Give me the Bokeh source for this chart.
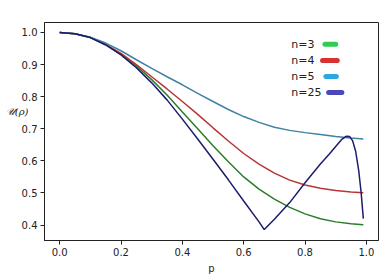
from bokeh.plotting import figure
from bokeh.models import Range1d, Label, FixedTicker, NumeralTickFormatter, LinearAxis
from bokeh.embed import file_html
from bokeh.resources import INLINE

# ---- data ----
p_vals = [0.0, 0.05, 0.1, 0.15, 0.2, 0.25, 0.3, 0.35, 0.4, 0.45, 0.5,
          0.55, 0.6, 0.65, 0.7, 0.75, 0.8, 0.85, 0.9, 0.95, 0.99]
u_n3 = [1.0, 0.996, 0.984, 0.962, 0.932, 0.895, 0.853, 0.805, 0.752, 0.70, 0.647,
        0.597, 0.550, 0.512, 0.481, 0.455, 0.435, 0.420, 0.410, 0.404, 0.401]
u_n4 = [1.0, 0.996, 0.984, 0.963, 0.935, 0.900, 0.862, 0.824, 0.785, 0.745, 0.703,
        0.662, 0.623, 0.590, 0.562, 0.540, 0.525, 0.515, 0.508, 0.503, 0.501]
u_n5 = [1.0, 0.996, 0.985, 0.967, 0.943, 0.915, 0.888, 0.862, 0.837, 0.810, 0.785,
        0.760, 0.738, 0.720, 0.705, 0.695, 0.688, 0.682, 0.676, 0.671, 0.668]
p_n25 = [0.0, 0.05, 0.1, 0.15, 0.2, 0.25, 0.3, 0.35, 0.4, 0.45, 0.5, 0.55, 0.6,
         0.65, 0.667, 0.7, 0.75, 0.8, 0.85, 0.88, 0.9, 0.92, 0.935, 0.945, 0.955,
         0.965, 0.975, 0.983, 0.99]
u_n25 = [1.0, 0.996, 0.984, 0.961, 0.930, 0.890, 0.843, 0.790, 0.730, 0.668, 0.605,
         0.541, 0.475, 0.410, 0.386, 0.418, 0.470, 0.532, 0.590, 0.622, 0.645, 0.667,
         0.677, 0.676, 0.663, 0.630, 0.570, 0.500, 0.420]

series_names = ["n=3", "n=4", "n=5", "n=25"]
line_colors = ["#2a7d2a", "#b83434", "#3f82a2", "#1c1c6e"]
legend_colors = ["#2ecc52", "#d63232", "#2aa8e0", "#4848b8"]
x_ticks = [0.0, 0.2, 0.4, 0.6, 0.8, 1.0]
y_ticks = [0.4, 0.5, 0.6, 0.7, 0.8, 0.9, 1.0]
y_label = "𝒰(ρ)"

p = figure(width=386, height=278, output_backend="svg", toolbar_location=None,
           x_range=Range1d(-0.0495, 1.0395), y_range=Range1d(0.352, 1.031),
           min_border_left=44, min_border_right=8, min_border_top=22,
           min_border_bottom=38, background_fill_color="white",
           border_fill_color="white")
p.grid.visible = False
p.outline_line_color = "#222222"
p.outline_line_width = 1

FONT = "DejaVu Sans"
for ax in (p.xaxis[0], p.yaxis[0]):
    ax.major_tick_in = 0
    ax.major_tick_out = 4
    ax.minor_tick_in = 0
    ax.minor_tick_out = 0
    ax.axis_line_color = "#222222"
    ax.major_tick_line_color = "#222222"
    ax.major_label_text_font = FONT
    ax.major_label_text_font_size = "10px"
    ax.major_label_text_color = "#222222"
    ax.major_label_standoff = 3
    ax.formatter = NumeralTickFormatter(format="0.0")

p.xaxis.ticker = FixedTicker(ticks=x_ticks)
p.yaxis.ticker = FixedTicker(ticks=y_ticks)
p.xaxis.axis_label = "p"
p.xaxis.axis_label_text_font = FONT
p.xaxis.axis_label_text_font_style = "normal"
p.xaxis.axis_label_text_font_size = "10px"
p.xaxis.axis_label_text_color = "#222222"
p.xaxis.axis_label_standoff = 4

# horizontal y label on a tick-less helper axis; trailing blank lines lift it
lab_axis = LinearAxis(ticker=FixedTicker(ticks=[]),
                      axis_label=y_label + "\n \n \n ",
                      axis_label_orientation="horizontal",
                      axis_label_text_font="DejaVu Serif",
                      axis_label_text_font_style="italic",
                      axis_label_text_font_size="10px",
                      axis_label_text_line_height=1.2,
                      axis_label_text_color="#222222",
                      axis_label_standoff=-10, axis_line_alpha=0,
                      major_tick_out=0, major_tick_in=0,
                      minor_tick_out=0, minor_tick_in=0,
                      major_label_text_alpha=0)
p.add_layout(lab_axis, "left")

# curves
curves = [(p_vals, u_n3), (p_vals, u_n4), (p_vals, u_n5), (p_n25, u_n25)]
for (xs, ys), c in zip(curves, line_colors):
    p.line(xs, ys, line_color=c, line_width=1.5)

# legend (text first, then a short thick line)
leg_x_text = 0.755
leg_ys = [0.963, 0.913, 0.863, 0.813]
leg_x0 = [0.865, 0.857, 0.868, 0.877]
leg_x1 = [0.900, 0.905, 0.902, 0.920]
for name, c, yy, x0, x1 in zip(series_names, legend_colors, leg_ys, leg_x0, leg_x1):
    p.add_layout(Label(x=leg_x_text, y=yy, text=name, text_font=FONT,
                       text_font_size="11px", text_color="#222222",
                       text_baseline="middle", text_align="left"))
    p.segment(x0=[x0], y0=[yy], x1=[x1], y1=[yy], line_color=c,
              line_width=5, line_cap="round")

open("out.html", "w").write(file_html(p, INLINE))
